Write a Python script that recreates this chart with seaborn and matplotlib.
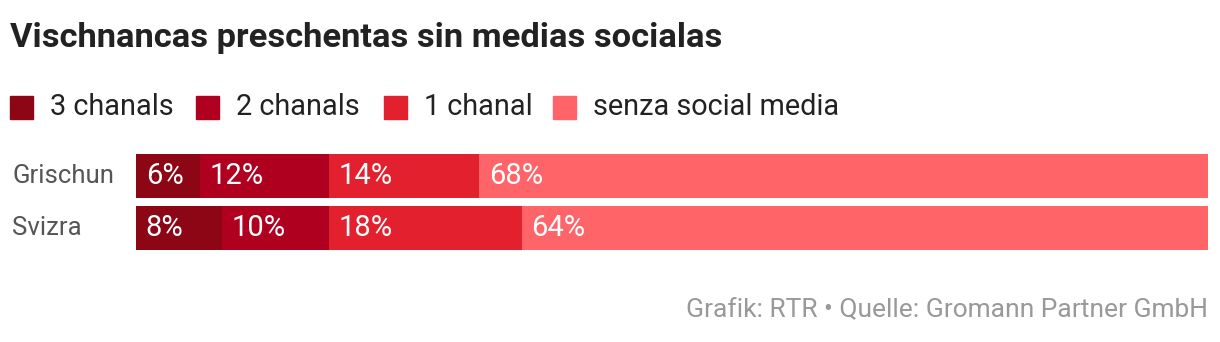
import matplotlib
matplotlib.use("Agg")
import matplotlib.pyplot as plt
import seaborn as sns
import pandas as pd
import numpy as np
from matplotlib.patches import Rectangle

sns.set_theme(style="white")
plt.rcParams["font.family"] = ["Roboto", "DejaVu Sans"]

regions = ["Grischun", "Svizra"]
series = ["3 chanals", "2 chanals", "1 chanal", "senza social media"]
values = {
    "3 chanals": [6, 8],
    "2 chanals": [12, 10],
    "1 chanal": [14, 18],
    "senza social media": [68, 64],
}
colors = ["#8c0616", "#b00020", "#e3202e", "#ff6469"]

W, H = 12.2, 3.42
fig = plt.figure(figsize=(W, H), dpi=100)

def fx(px):
    return px / 1220

def fy(py):
    return 1 - py / 342

ax = fig.add_axes([fx(136), fy(254), fx(1208 - 136), (254 - 150) / 342])

# stacked horizontal bars: draw cumulative totals, widest first
cum = np.cumsum([values[s] for s in series], axis=0)
for i in range(len(series) - 1, -1, -1):
    df = pd.DataFrame({"region": regions, "value": cum[i]})
    sns.barplot(data=df, x="value", y="region", orient="h", color=colors[i],
                saturation=1, width=0.846, linewidth=0, edgecolor="none", ax=ax)

# value labels inside each segment
for i, s in enumerate(series):
    starts = cum[i] - np.array(values[s])
    for j, v in enumerate(values[s]):
        ax.text(starts[j] + 0.9, j, f"{v}%", color="white", fontsize=21,
                fontweight="normal", va="center", ha="left")

ax.set_xlim(0, 100)
ax.set_ylim(1.5, -0.5)
ax.set_xlabel("")
ax.set_ylabel("")
ax.set_xticks([])
ax.set_yticks([])
for sp in ax.spines.values():
    sp.set_visible(False)

for j, r in enumerate(regions):
    fig.text(fx(12), fy(176 + 52 * j), r, color="#555555", fontsize=18.5,
             fontweight="normal", va="center", ha="left")

# title
fig.text(fx(10), fy(38), "Vischnancas preschentas sin medias socialas",
         fontsize=24.8, fontweight="bold", color="#222222", va="center", ha="left")

# legend row
legend_x = [10, 196, 384, 553]
for x0, s, c in zip(legend_x, series, colors):
    fig.patches.append(Rectangle((fx(x0), fy(119)), fx(23), 23 / 342,
                                 transform=fig.transFigure, color=c))
    fig.text(fx(x0 + 40), fy(107), s, fontsize=20.8, fontweight="normal",
             color="#222222", va="center", ha="left")

# source line
fig.text(fx(1208), fy(310), "Grafik: RTR \u2022 Quelle: Gromann Partner GmbH",
         fontsize=19, fontweight="normal", color="#999999", va="center", ha="right")

fig.savefig("out.png", dpi=100, facecolor="white")
